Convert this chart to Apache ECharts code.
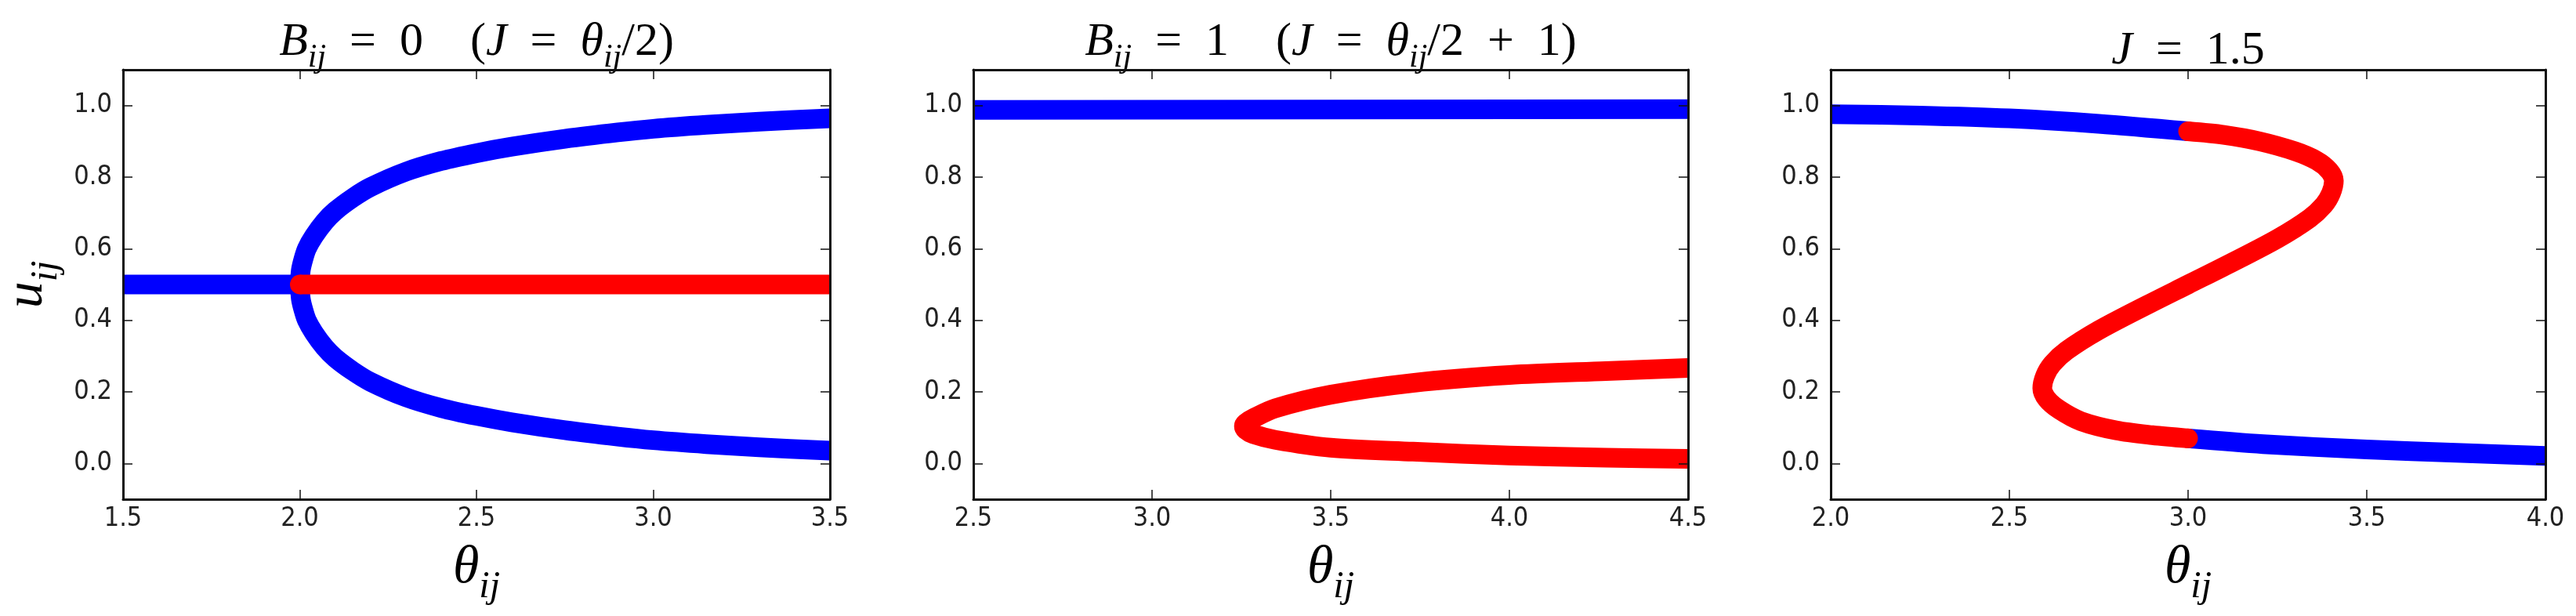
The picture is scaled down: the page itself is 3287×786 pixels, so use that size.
<!DOCTYPE html>
<html><head><meta charset="utf-8">
<script src="https://cdn.jsdelivr.net/npm/echarts@6/dist/echarts.min.js"></script>
<style>html,body{margin:0;padding:0;background:#fff}#c{width:3287px;height:786px}</style>
</head><body><div id="c"></div>
<script>
// ---------- tick values ----------
const yTicks = [0.0, 0.2, 0.4, 0.6, 0.8, 1.0];
const xTicks1 = [1.5, 2.0, 2.5, 3.0, 3.5];
const xTicks2 = [2.5, 3.0, 3.5, 4.0, 4.5];
const xTicks3 = [2.0, 2.5, 3.0, 3.5, 4.0];

// ---------- panel 1 : B_ij = 0 ----------
const p1LeftTheta = [1.5, 2.0];
const p1LeftU     = [0.5, 0.5];
const p1UpTheta   = [2.0, 2.003, 2.01, 2.02, 2.04, 2.07, 2.1, 2.15, 2.2, 2.3, 2.4, 2.5, 2.6, 2.75, 2.9, 3.0, 3.15, 3.3, 3.5];
const p1UpU       = [0.5, 0.54, 0.57, 0.60, 0.635, 0.675, 0.705, 0.742, 0.772, 0.815, 0.845, 0.867, 0.885, 0.907, 0.925, 0.935, 0.946, 0.955, 0.964];
const p1LoTheta   = [2.0, 2.003, 2.01, 2.02, 2.04, 2.07, 2.1, 2.15, 2.2, 2.3, 2.4, 2.5, 2.6, 2.75, 2.9, 3.0, 3.15, 3.3, 3.5];
const p1LoU       = [0.5, 0.46, 0.43, 0.40, 0.365, 0.325, 0.295, 0.258, 0.228, 0.185, 0.155, 0.133, 0.115, 0.093, 0.075, 0.065, 0.054, 0.045, 0.036];
const p1MidTheta  = [2.0, 3.5];
const p1MidU      = [0.5, 0.5];

// ---------- panel 2 : B_ij = 1 ----------
const p2TopTheta  = [2.5, 4.5];
const p2TopU      = [0.988, 0.99];
const p2FoldTheta = [4.5, 4.27, 4.0, 3.73, 3.5, 3.345, 3.283, 3.262, 3.257, 3.262, 3.283, 3.345, 3.5, 3.73, 4.0, 4.27, 4.5];
const p2FoldU     = [0.267, 0.258, 0.247, 0.225, 0.192, 0.154, 0.126, 0.113, 0.104, 0.094, 0.082, 0.066, 0.044, 0.033, 0.022, 0.016, 0.013];

// ---------- panel 3 : J = 1.5 ----------
const p3UpBlueTheta = [2.0, 2.25, 2.5, 2.75, 3.0];
const p3UpBlueU     = [0.976, 0.972, 0.964, 0.949, 0.928];
const p3RedTheta    = [3.0, 3.1, 3.2, 3.3, 3.36, 3.395, 3.408, 3.40, 3.38, 3.34, 3.25, 3.12, 3.0, 2.88, 2.75, 2.66, 2.62, 2.60, 2.592, 2.605, 2.64, 2.70, 2.80, 2.90, 3.0];
const p3RedU        = [0.928, 0.918, 0.900, 0.872, 0.846, 0.818, 0.790, 0.755, 0.722, 0.685, 0.628, 0.560, 0.500, 0.440, 0.372, 0.315, 0.278, 0.245, 0.210, 0.180, 0.150, 0.118, 0.092, 0.079, 0.070];
const p3LoBlueTheta = [3.0, 3.21, 3.5, 3.75, 4.0];
const p3LoBlueU     = [0.070, 0.054, 0.039, 0.030, 0.021];

const BLUE = '#0000ff', RED = '#ff0000';
const LW = 25;
const SERIF = 'Liberation Serif';
const SANS = "'DejaVu Sans Condensed','DejaVu Sans'";

function pairs(xs, ys) { return xs.map((x, i) => [x, ys[i]]); }

function richSet(size, sub, shift) {
  return {
    it:  { fontFamily: SERIF, fontStyle: 'italic', fontSize: size, color: '#000' },
    rm:  { fontFamily: SERIF, fontSize: size, color: '#000' },
    sub: { fontFamily: SERIF, fontStyle: 'italic', fontSize: sub, color: '#000', padding: [shift, 0, 0, 0] }
  };
}
const titleRich = richSet(60, 42, 40);
const labelRich = richSet(68, 48, 48);

const grids = [
  { left: 146, top: 89, width: 913, height: 548 },
  { left: 1242, top: 89, width: 912, height: 548 },
  { left: 2336, top: 89, width: 912, height: 548 }
];
const xRanges = [[1.5, 3.5], [2.5, 4.5], [2.0, 4.0]];
const xTickSets = [xTicks1, xTicks2, xTicks3];
const EN = '\u2002', EM = '\u2003';
const titles = [
  '{it|B}{sub|ij}{rm|' + EN + '=' + EN + '0' + EM + '(}{it|J}{rm|' + EN + '=' + EN + '}{it|θ}{sub|ij}{rm|/2)}',
  '{it|B}{sub|ij}{rm|' + EN + '=' + EN + '1' + EM + '(}{it|J}{rm|' + EN + '=' + EN + '}{it|θ}{sub|ij}{rm|/2' + EN + '+' + EN + '1)}',
  '{it|J}{rm|' + EN + '=' + EN + '1.5}'
];

const frame = { show: true, onZero: false, lineStyle: { color: '#111', width: 3 } };
const tickStyle = { lineStyle: { color: '#111', width: 1.5 } };

const xAxes = [], yAxes = [];
for (let k = 0; k < 3; k++) {
  xAxes.push({
    type: 'value', gridIndex: k, position: 'bottom', min: xRanges[k][0], max: xRanges[k][1], z: 5,
    axisLine: frame, splitLine: { show: false },
    axisTick: Object.assign({ show: true, inside: true, length: 12, customValues: xTickSets[k] }, tickStyle),
    axisLabel: { show: true, margin: 8, fontFamily: SANS, fontSize: 34, color: '#222',
      customValues: xTickSets[k], formatter: v => v.toFixed(1) },
    name: '{it|θ}{sub|ij}', nameLocation: 'middle', nameGap: 40,
    nameTextStyle: { rich: labelRich }
  });
  xAxes.push({
    type: 'value', gridIndex: k, position: 'top', min: xRanges[k][0], max: xRanges[k][1], z: 5,
    axisLine: frame, splitLine: { show: false },
    axisTick: Object.assign({ show: true, inside: true, length: 12, customValues: xTickSets[k] }, tickStyle),
    axisLabel: { show: false },
    name: titles[k], nameLocation: 'middle', nameGap: -6,
    nameTextStyle: { rich: titleRich }
  });
  const yl = {
    type: 'value', gridIndex: k, position: 'left', min: -0.1, max: 1.1, z: 5,
    axisLine: frame, splitLine: { show: false },
    axisTick: Object.assign({ show: true, inside: true, length: 12, customValues: yTicks }, tickStyle),
    axisLabel: { show: true, margin: 14, fontFamily: SANS, fontSize: 34, color: '#222',
      customValues: yTicks, formatter: v => v.toFixed(1) }
  };
  if (k === 0) {
    yl.name = '{it|u}{sub|ij}'; yl.nameLocation = 'middle'; yl.nameGap = 74;
    yl.nameTextStyle = { rich: labelRich };
  }
  yAxes.push(yl);
  yAxes.push({
    type: 'value', gridIndex: k, position: 'right', min: -0.1, max: 1.1, z: 5,
    axisLine: frame, splitLine: { show: false },
    axisTick: Object.assign({ show: true, inside: true, length: 12, customValues: yTicks }, tickStyle),
    axisLabel: { show: false }
  });
}

// roundStart / roundEnd put a round cap (circle of line width) on interior ends only;
// ends that sit on the frame stay flat, as in the reference.
function line(k, xs, ys, color, smooth, roundStart, roundEnd) {
  const data = pairs(xs, ys).map((p, i) => {
    const round = (i === 0 && roundStart) || (i === xs.length - 1 && roundEnd);
    return round ? { value: p, symbol: 'circle', symbolSize: LW } : { value: p, symbol: 'none' };
  });
  return {
    type: 'line', xAxisIndex: 2 * k, yAxisIndex: 2 * k, data: data,
    showSymbol: true, showAllSymbol: true, symbol: 'none',
    smooth: smooth ? 0.3 : false, clip: true,
    lineStyle: { color: color, width: LW, cap: 'butt', join: 'round' },
    itemStyle: { color: color, borderWidth: 0 }, animation: false, silent: true
  };
}

const series = [
  line(0, p1LeftTheta, p1LeftU, BLUE, false, false, false),
  line(0, p1UpTheta, p1UpU, BLUE, true, false, false),
  line(0, p1LoTheta, p1LoU, BLUE, true, false, false),
  line(0, p1MidTheta, p1MidU, RED, false, true, false),
  line(1, p2TopTheta, p2TopU, BLUE, false, false, false),
  line(1, p2FoldTheta, p2FoldU, RED, true, false, false),
  line(2, p3UpBlueTheta, p3UpBlueU, BLUE, true, false, false),
  line(2, p3LoBlueTheta, p3LoBlueU, BLUE, true, false, false),
  line(2, p3RedTheta, p3RedU, RED, true, true, true)
];

const chart = echarts.init(document.getElementById('c'), null, { renderer: 'canvas' });
chart.setOption({
  animation: false,
  backgroundColor: '#fff',
  grid: grids,
  xAxis: xAxes,
  yAxis: yAxes,
  series: series
});
</script></body></html>
